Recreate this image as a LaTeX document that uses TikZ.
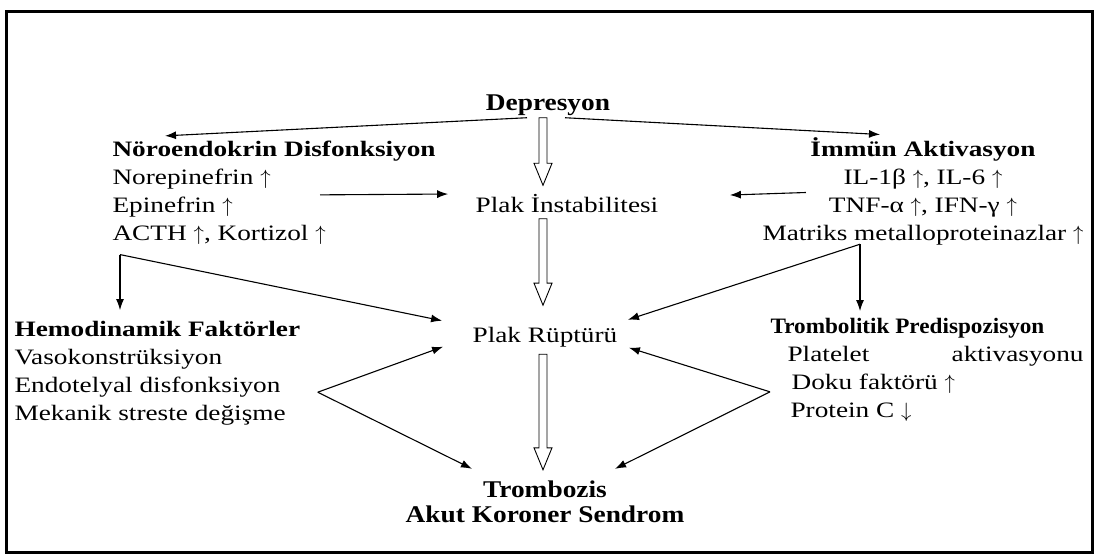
\documentclass[tikz,border=0pt]{standalone}
\usepackage{fontspec}
\setmainfont{Liberation Serif}[FakeStretch=1.24]
\newfontfamily\headfont{Liberation Serif}[FakeStretch=1.14]
\usetikzlibrary{arrows.meta,calc}
\newcommand{\up}{~$\uparrow$}
\newcommand{\down}{~$\downarrow$}
\tikzset{
  box/.style={inner sep=0pt, font=\fontsize{22pt}{27.7pt}\selectfont},
  head/.style={inner sep=0pt, font=\headfont\bfseries\fontsize{24pt}{25pt}\selectfont},
  hollow/.style={line width=0.9pt, to path={let \p1=(\tikztostart), \p2=(\tikztotarget) in
    (\x1-4pt,\y1) -- (\x1-4pt,\y2+22pt) -- (\x1-9pt,\y2+22pt) -- (\x1,\y2)
    -- (\x1+9pt,\y2+22pt) -- (\x1+4pt,\y2+22pt) -- (\x1+4pt,\y1) -- cycle}}
}
\begin{document}
\begin{tikzpicture}[x=1pt,y=-1pt,>={Latex[length=11pt,width=8pt]},line width=1.1pt]
\useasboundingbox (0,0) rectangle (1098,557);
\draw[line width=3pt] (6,11) rectangle (1092,552);
\node[head,anchor=base] (dep) at (548,110) {Depresyon};
\node[box,anchor=base west,align=left] (neuro) at (112,240)
  {\textbf{Nöroendokrin Disfonksiyon}\\Norepinefrin\up\\Epinefrin\up\\ACTH\up, Kortizol\up};
\node[box,anchor=base,align=center] (immune) at (923,240)
  {\textbf{İmmün Aktivasyon}\\IL-1β\up, IL-6\up\\TNF-α\up, IFN-γ\up\\Matriks metalloproteinazlar\up};
\node[box,anchor=base] (inst) at (567,212) {Plak İnstabilitesi};
\node[box,anchor=base] (rupt) at (545,342) {Plak Rüptürü};
\node[box,anchor=base west,align=left] (hemo) at (14,420)
  {\textbf{Hemodinamik Faktörler}\\Vasokonstrüksiyon\\Endotelyal disfonksiyon\\Mekanik streste değişme};
\node[box,anchor=base west,align=left] (trombo) at (770,417)
  {\scalebox{0.85}[1]{\textbf{Trombolitik Predispozisyon}}\\\hspace*{17pt}\makebox[296pt][s]{Platelet aktivasyonu}\\
   \hspace*{21pt}Doku faktörü\up\\\hspace*{20pt}Protein C\down};
\node[head,anchor=base,align=center] (throm) at (545,522) {Trombozis\\Akut Koroner Sendrom};

\draw[->] ($(dep.south)+(-21,2)$) -- ($(neuro.north west)+(53,-5)$);
\draw[->] ($(dep.south)+(17,2)$) -- ($(immune.north)+(-43,-3)$);
\draw[hollow] ($(dep.south)+(-5,2)$) to ($(inst.north)+(-24,-8)$);
\draw[hollow] ($(inst.south)+(-24,6)$) to ($(rupt.north)+(-2,-21)$);
\draw[hollow] ($(rupt.south)+(-2,7)$) to ($(throm.north)+(-2,-10)$);

\draw[->] ($(neuro.north west)+(208,54)$) -- ($(inst.west)+(-27,-9)$);
\draw[->] ($(immune.north west)+(44,55)$) -- ($(inst.east)+(71,-8)$);

\coordinate (nc) at ($(neuro.south west)+(8,10)$);
\draw[->] (nc) -- ($(nc |- hemo.north)+(0,-11)$);
\draw[->] (nc) -- ($(rupt.west)+(-30,-16)$);
\coordinate (ic) at ($(immune.south)+(-63,-1)$);
\draw[->] (ic) -- ($(ic |- trombo.north)+(0,-7)$);
\draw[->] (ic) -- ($(rupt.east)+(10,-17)$);

\coordinate (hc) at ($(hemo.east)+(17,19)$);
\draw[->] (hc) -- ($(rupt.west)+(-29,10)$);
\draw[->] (hc) -- ($(throm.north)+(-73,-11)$);
\coordinate (tc) at ($(trombo.west)+(0,22)$);
\draw[->] (tc) -- ($(rupt.east)+(11,11)$);
\draw[->] (tc) -- ($(throm.north)+(70,-11)$);
\end{tikzpicture}
\end{document}
